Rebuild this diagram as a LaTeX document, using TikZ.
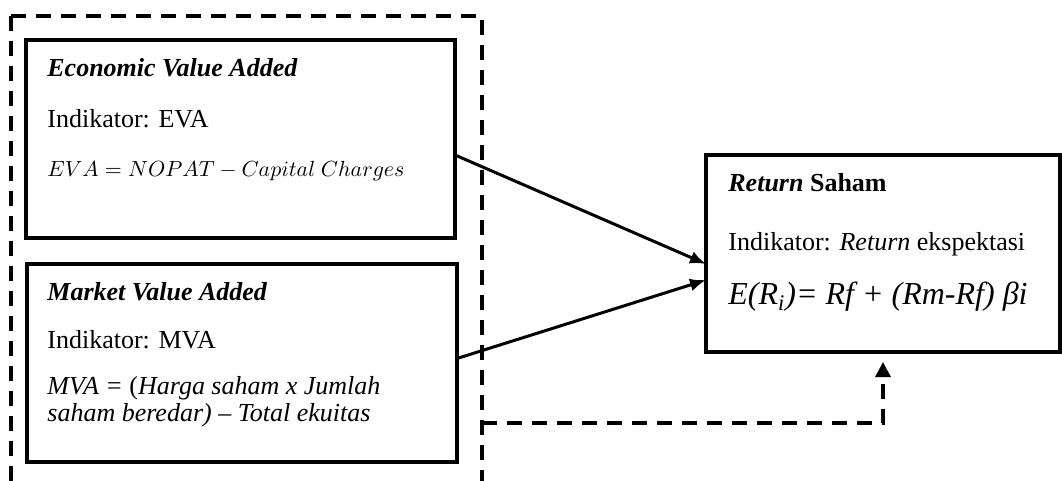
\documentclass[tikz,border=0pt]{standalone}
\usepackage{fontspec}
\setmainfont{Liberation Serif}
\usetikzlibrary{arrows.meta}

\begin{document}
\begin{tikzpicture}[x=0.5pt, y=-0.5pt,
	kotak/.style={draw, line width=1.9pt, inner sep=0pt, outer sep=0pt, anchor=north west},
	teks/.style={anchor=base west, inner sep=0pt, font=\fontsize{13}{15.6}\selectfont},
	panah/.style={line width=1.5pt, -{Latex[length=8pt,width=6.5pt]}},
	putus/.style={line width=1.6pt, dash pattern=on 7.5pt off 5pt}]

\useasboundingbox (0,0) rectangle (1062,481);
\clip (0,0) rectangle (1062,481);

%% Bingkai putus-putus
\coordinate (bingkaiKA) at (11,16);
\coordinate (bingkaiKB) at (482,540);
\coordinate (bingkaiR) at (482,423);
\draw[putus] (bingkaiKA) rectangle (bingkaiKB);

%% Kotak EVA
\node[kotak, minimum width=214.5pt, minimum height=99pt] (eva) at (26,40) {};
\node[teks] (evaJudul) at ([shift={(10.5pt,-18.5pt)}]eva.north west) {\textbf{\textit{Economic Value Added}}};
\node[teks] (evaInd) at ([shift={(10.5pt,-44pt)}]eva.north west) {Indikator: EVA};
\node[teks, font=\fontsize{11.3}{14}\selectfont] (evaRumus) at ([shift={(10.5pt,-68.5pt)}]eva.north west) {$EVA = NOPAT - Capital\ Charges$};

%% Kotak MVA
\node[kotak, minimum width=215pt, minimum height=99pt] (mva) at (27,264) {};
\node[teks] (mvaJudul) at ([shift={(10pt,-18pt)}]mva.north west) {\textbf{\textit{Market Value Added}}};
\node[teks] (mvaInd) at ([shift={(10pt,-42.5pt)}]mva.north west) {Indikator: MVA};
\node[teks] (mvaRumus1) at ([shift={(10pt,-65pt)}]mva.north west) {\textit{MVA =} (\textit{Harga saham x Jumlah}};
\node[teks] (mvaRumus2) at ([shift={(10pt,-79pt)}]mva.north west) {\textit{saham beredar)} -- \textit{Total ekuitas}};

%% Kotak Return Saham
\node[kotak, minimum width=177pt, minimum height=98.5pt] (ret) at (706,155) {};
\node[teks] (retJudul) at ([shift={(11pt,-18.5pt)}]ret.north west) {\textbf{\textit{Return} Saham}};
\node[teks] (retInd) at ([shift={(11pt,-47.5pt)}]ret.north west) {Indikator: \textit{Return} ekspektasi};
\node[teks, font=\fontsize{16}{19}\selectfont] (retRumus) at ([shift={(11pt,-75pt)}]ret.north west) {\textit{E(R\textsubscript{i})= Rf + (Rm-Rf) βi}};

%% Panah
\draw[panah] ([yshift=-8pt]eva.east) -- ([yshift=-5.25pt]ret.west);
\draw[panah] ([yshift=2.25pt]mva.east) -- ([yshift=-13.25pt]ret.west);
\draw[putus, -{Triangle[length=7.5pt,width=7.5pt]}] (bingkaiR) -| ([yshift=-5pt]ret.south);

\end{tikzpicture}
\end{document}
